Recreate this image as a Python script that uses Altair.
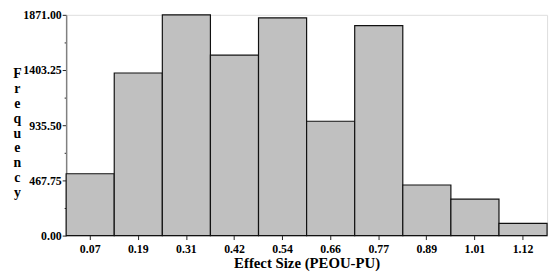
import altair as alt
import pandas as pd

categories = ["0.07", "0.19", "0.31", "0.42", "0.54", "0.66", "0.77", "0.89", "1.01", "1.12"]
frequency = [524, 1378, 1871, 1529, 1846, 969, 1779, 429, 309, 103]
y_ticks = [0, 233.875, 467.75, 701.625, 935.5, 1169.375, 1403.25, 1637.125, 1871]

df = pd.DataFrame({"bin": categories, "freq": frequency})

FONT = "Liberation Serif"

chart = alt.Chart(df).mark_bar(
    fill="#c0c0c0", stroke="#111111", strokeWidth=1.2
).encode(
    x=alt.X(
        "bin:N", sort=categories,
        scale=alt.Scale(paddingInner=0, paddingOuter=0),
        axis=alt.Axis(
            title="Effect Size (PEOU-PU)", labelAngle=0, domain=False,
            tickColor="#222222", tickSize=4, labelPadding=4,
            labelFont=FONT, labelFontWeight="bold", labelFontSize=12, labelColor="#000000",
            titleFont=FONT, titleFontWeight="bold", titleFontSize=15, titleColor="#000000",
            titlePadding=1,
        ),
    ),
    y=alt.Y(
        "freq:Q",
        scale=alt.Scale(domain=[0, 1871], nice=False, zero=True),
        axis=alt.Axis(
            values=y_ticks,
            labelExpr="round(datum.value / 233.875) % 2 == 0 ? format(datum.value, '.2f') : ''",
            tickSize={"condition": {"test": "round(datum.value / 233.875) % 2 == 0", "value": 4}, "value": 2},
            tickColor="#222222", domainColor="#808080", domainWidth=1.5,
            grid=False, labelPadding=1,
            labelFont=FONT, labelFontWeight="bold", labelFontSize=12, labelColor="#000000",
            title=["F", "r", "e", "q", "u", "e", "n", "c", "y"],
            titleAngle=0, titleAlign="center", titleBaseline="alphabetic",
            titleX=-50, titleY=64, titleLineHeight=15,
            titleFont=FONT, titleFontWeight="bold", titleFontSize=14, titleColor="#000000",
        ),
    ),
).properties(
    width=488, height=224,
    autosize=alt.AutoSizeParams(type="none"),
    padding={"left": 59, "top": 5, "right": 5, "bottom": 35},
).configure_view(stroke=None).configure(background="white")

chart.save("out.html", embed_options={"renderer": "svg", "actions": False})
